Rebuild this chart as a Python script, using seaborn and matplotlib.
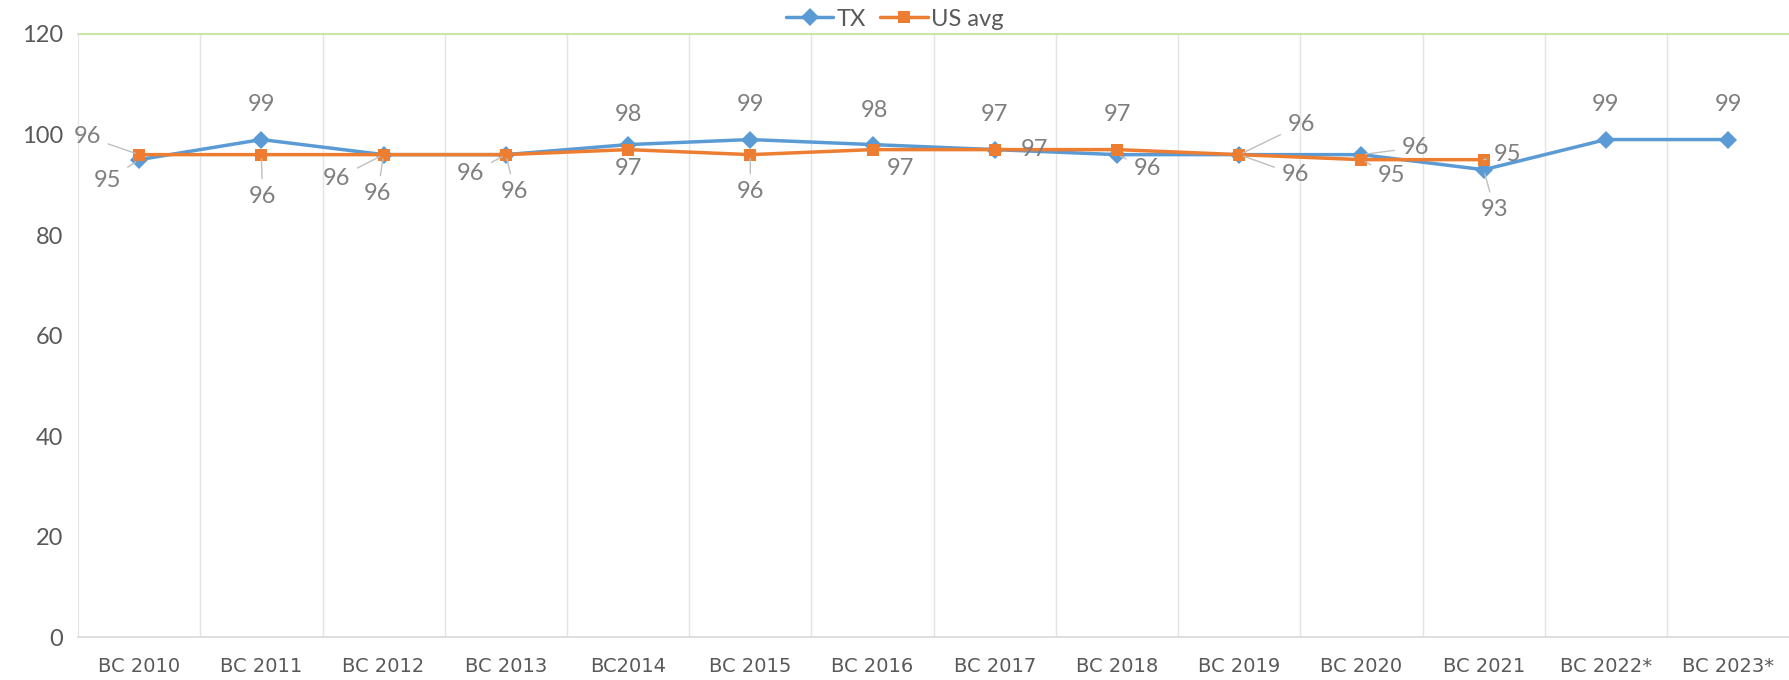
import numpy as np
import pandas as pd
import matplotlib
matplotlib.use('Agg')
import matplotlib.pyplot as plt
import seaborn as sns

# Data
years = ['BC 2010', 'BC 2011', 'BC 2012', 'BC 2013', 'BC2014', 'BC 2015', 'BC 2016',
         'BC 2017', 'BC 2018', 'BC 2019', 'BC 2020', 'BC 2021', 'BC 2022*', 'BC 2023*']
tx = [95, 99, 96, 96, 98, 99, 98, 97, 96, 96, 96, 93, 99, 99]
us_avg = [96, 96, 96, 96, 97, 96, 97, 97, 97, 96, 95, 95, np.nan, np.nan]

# label offsets in pixels (style only) and whether a leader line is drawn
tx_off = [(-32, -21), (0, 35), (-47, -24), (-35, -19), (0, 30), (0, 35), (2, 34),
          (40, 0), (30, -14), (56, -20), (54, 7), (11, -40), (0, 35), (0, 35)]
tx_lead = [1, 0, 1, 1, 0, 0, 0, 0, 1, 1, 1, 1, 0, 0]
us_off = [(-52, 18), (1, -42), (-6, -39), (9, -37), (0, -19), (0, -37), (28, -19),
          (0, 35), (0, 35), (62, 30), (30, -16), (24, 5)]
us_lead = [1, 1, 1, 1, 0, 1, 0, 0, 0, 1, 1, 1]

sns.set_style('white')
plt.rcParams['font.family'] = ['Lato', 'DejaVu Sans']

df = pd.DataFrame({'x': list(range(len(years))) * 2,
                   'value': tx + us_avg,
                   'series': ['TX'] * len(years) + ['US avg'] * len(years)}).dropna()

fig = plt.figure(figsize=(17.9, 6.8), dpi=100)
ax = fig.add_axes([0.0436, 0.063, 0.956, 0.887])

palette = {'TX': '#5B9BD5', 'US avg': '#ED7D31'}
sns.lineplot(data=df, x='x', y='value', hue='series', style='series',
             markers={'TX': 'D', 'US avg': 's'}, dashes=False, palette=palette,
             linewidth=2.5, markersize=9, markeredgewidth=0, ax=ax, sort=False)

ax.set_xlim(-0.5, len(years) - 0.5)
ax.set_ylim(0, 120)
ax.set_yticks(range(0, 121, 20))
ax.set_xticks(range(len(years)))
ax.set_xticklabels(years)
ax.set_xlabel('')
ax.set_ylabel('')
ax.tick_params(axis='y', labelsize=17, colors='#595959', length=0, pad=11)
ax.tick_params(axis='x', labelsize=14, colors='#595959', length=0, pad=14)
for lab in ax.get_xticklabels():
    lab.set_family('DejaVu Sans')

# vertical gridlines between categories
for k in range(len(years) - 1):
    ax.axvline(k + 0.5, color='#E3E3E3', lw=1, zorder=0)
ax.axhline(120, color='#C9E6A8', lw=1.5, zorder=0, clip_on=False)
for s in ['top', 'right']:
    ax.spines[s].set_visible(False)
ax.spines['left'].set_color('#E3E3E3')
ax.spines['bottom'].set_color('#D9D9D9')
ax.spines['bottom'].set_linewidth(1.2)

def add_labels(values, offs, leads):
    for i, (v, o, l) in enumerate(zip(values, offs, leads)):
        if v is None or np.isnan(v):
            continue
        props = dict(arrowstyle='-', color='#BFBFBF', lw=1, shrinkA=3, shrinkB=3) if l else None
        ax.annotate(f'{int(v)}', xy=(i, v), xytext=o, textcoords='offset pixels',
                    ha='center', va='center', fontsize=17, color='#7F7F7F',
                    arrowprops=props, zorder=5)

add_labels(tx, tx_off, tx_lead)
add_labels(us_avg, us_off, us_lead)

ax.legend(loc='center', bbox_to_anchor=(0.5, 0.972), bbox_transform=fig.transFigure,
          ncol=2, frameon=False, fontsize=17, handlelength=2.0, columnspacing=0.6,
          handletextpad=0.15, borderpad=0, labelcolor='#595959')

fig.savefig('out.png', dpi=100)
